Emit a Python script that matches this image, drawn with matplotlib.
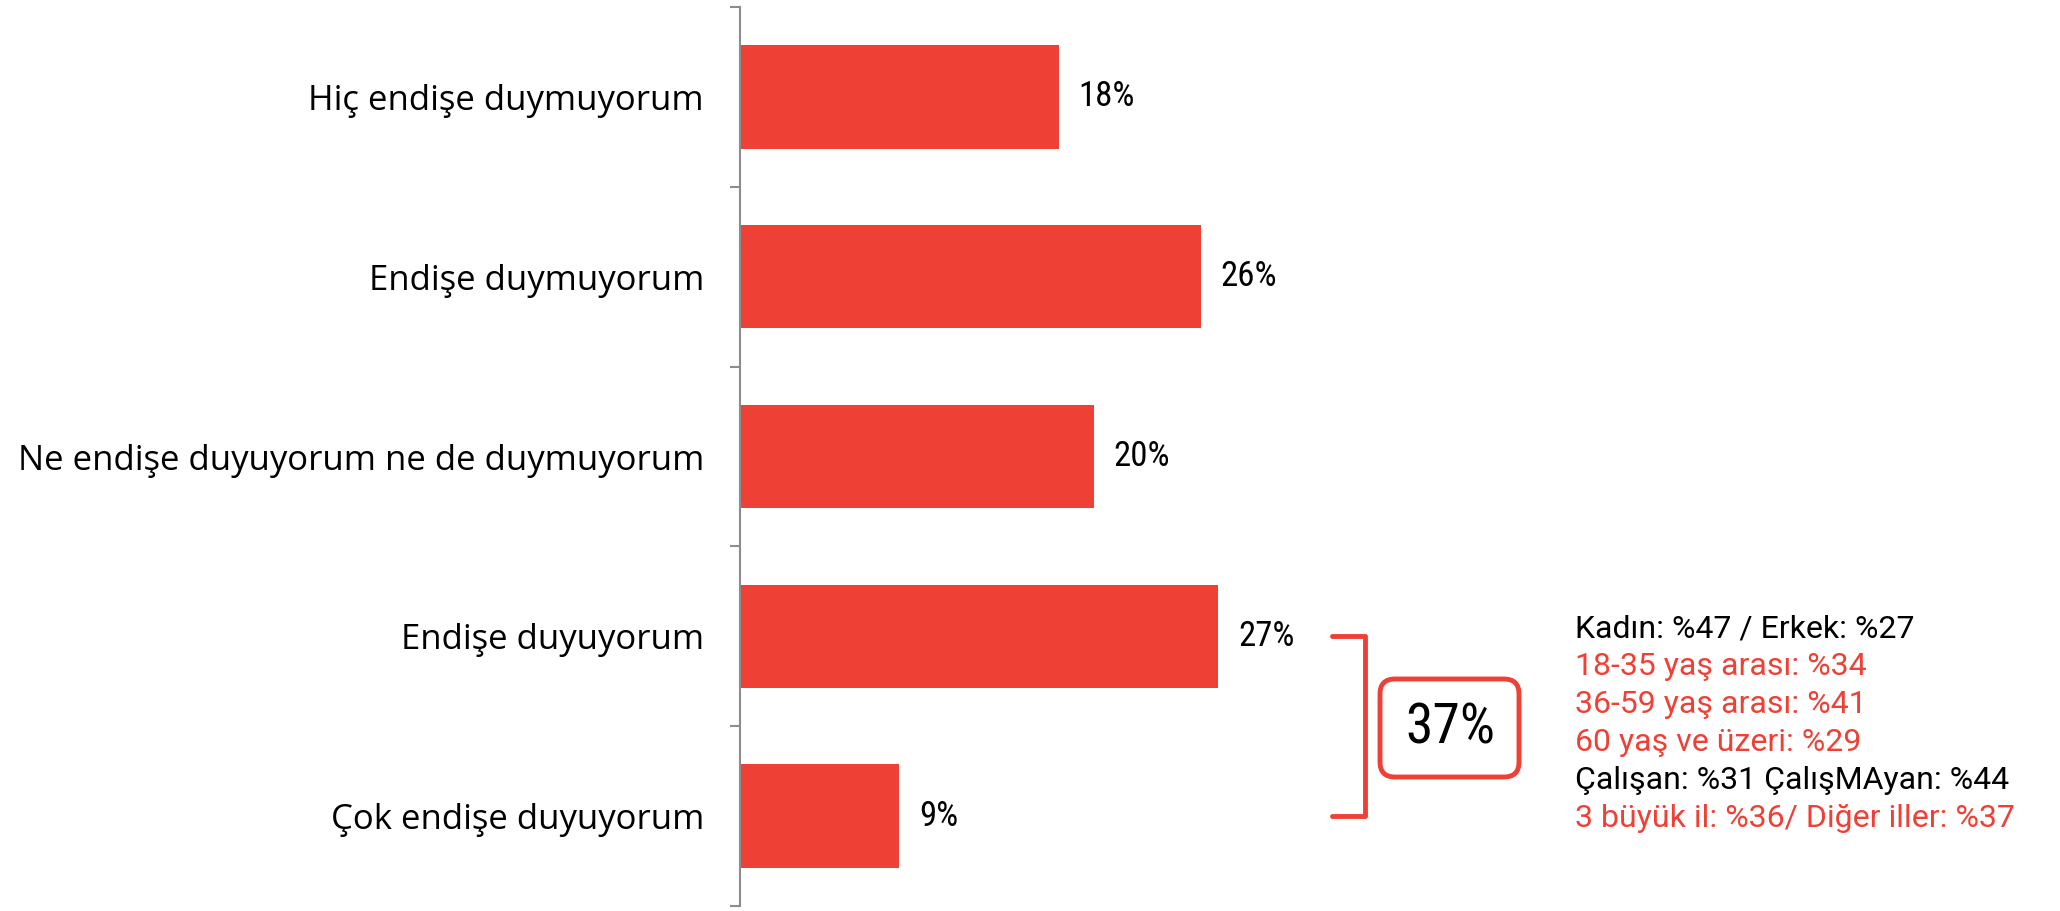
import matplotlib
matplotlib.use("Agg")
import matplotlib.pyplot as plt
from matplotlib import font_manager
from matplotlib.patches import FancyBboxPatch


def pick_font(names):
    for n in names:
        try:
            font_manager.findfont(n, fallback_to_default=False)
            return n
        except Exception:
            pass
    return "DejaVu Sans"


categories = ["Hiç endişe duymuyorum", "Endişe duymuyorum",
              "Ne endişe duyuyorum ne de duymuyorum", "Endişe duyuyorum",
              "Çok endişe duyuyorum"]
values = [18, 26, 20, 27, 9]
total_concerned = "37%"
notes = ["Kadın: %47 / Erkek: %27", "18-35 yaş arası: %34", "36-59 yaş arası: %41",
         "60 yaş ve üzeri: %29", "Çalışan: %31 ÇalışMAyan: %44",
         "3 büyük il: %36/ Diğer iller: %37"]
note_colors = ["black", "#EF4036", "#EF4036", "#EF4036", "black", "#EF4036"]

red = "#EF4036"
cat_font = pick_font(["Open Sans", "Noto Sans"])
num_font = pick_font(["DejaVu Sans Condensed", "Liberation Sans Narrow", "Roboto Condensed", "Lato"])
note_font = pick_font(["Roboto", "Noto Sans"])

W, H = 2060, 911
fig = plt.figure(figsize=(W / 100, H / 100), dpi=100)
ax = fig.add_axes([740 / W, 1 - 906 / H, (W - 740) / W, (906 - 7) / H])

y = range(len(categories))
ax.barh(y, values, height=0.575, color=red)
ax.set_xlim(0, 74.5)
ax.set_ylim(len(categories) - 0.5, -0.5)

for i, v in enumerate(values):
    ax.text(v + 1.1, i, f"{v}%", va="center", ha="left", fontsize=25, family=num_font)

for s in ["top", "right", "bottom"]:
    ax.spines[s].set_visible(False)
ax.spines["left"].set_color("#8c8c8c")
ax.spines["left"].set_linewidth(1.5)
ax.set_xticks([])
ax.set_yticks(list(y))
ax.set_yticklabels(categories, fontsize=25, family=cat_font)
ax.tick_params(axis="y", which="major", length=0, pad=26)
ax.set_yticks([i - 0.5 for i in range(len(categories) + 1)], minor=True)
ax.tick_params(axis="y", which="minor", length=7, width=1.5, color="#8c8c8c")

# bracket over the two "concerned" bars
bx0, bx1 = 33.4, 35.3
ax.plot([bx0, bx1, bx1, bx0], [3, 3, 4, 4], color=red, lw=3.5,
        solid_joinstyle="round", solid_capstyle="round", clip_on=False)

# rounded box with total
r = 0.15
box = FancyBboxPatch((13.80 + r, 1.34 + r), 1.39 - 2 * r, 0.98 - 2 * r,
                     boxstyle=f"round,pad={r}", fill=False, edgecolor=red, lw=3.5,
                     transform=fig.dpi_scale_trans)
fig.add_artist(box)
fig.text(14.50 / 20.6, 1.83 / 9.11, total_concerned, ha="center", va="center",
         fontsize=40, family=num_font)

baselines = [637, 675, 713, 751, 789, 827]
for t, c, b in zip(notes, note_colors, baselines):
    fig.text(1575 / W, 1 - b / H, t, color=c, fontsize=23, family=note_font, va="baseline")

fig.savefig("out.png", dpi=100)
